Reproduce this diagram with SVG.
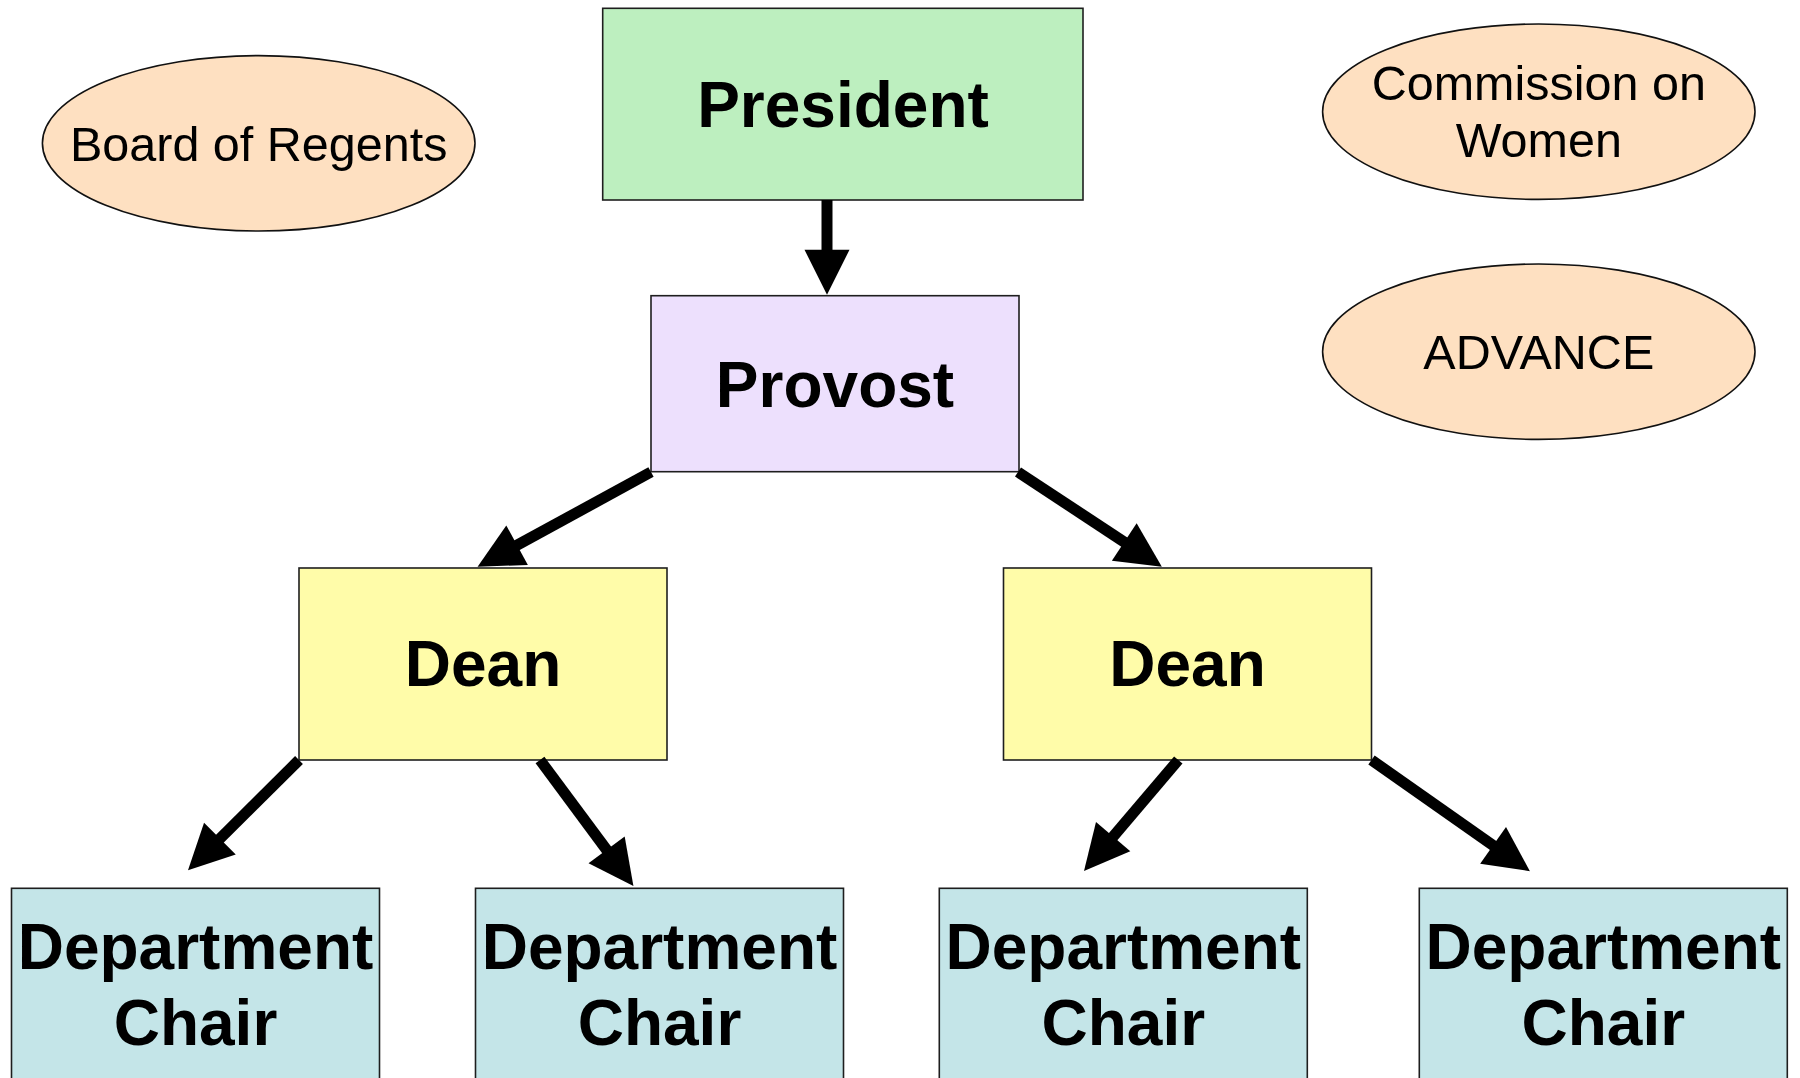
<svg xmlns="http://www.w3.org/2000/svg" width="1800" height="1078" viewBox="0 0 1800 1078">
<style>
.box{stroke:#1e1e1e;stroke-width:1.6}
.ell{fill:#fee0c1;stroke:#111;stroke-width:1.6}
.bt{font-family:"Liberation Sans",Arial,sans-serif;font-weight:bold;font-size:64px;fill:#000;text-anchor:middle}
.et{font-family:"Liberation Sans",Arial,sans-serif;font-size:48.5px;fill:#000;text-anchor:middle}
.con{stroke:#000;stroke-width:11;fill:none;marker-end:url(#ah)}
</style>
<defs>
<marker id="ah" markerUnits="userSpaceOnUse" markerWidth="45" markerHeight="45" viewBox="0 0 45 45" refX="1" refY="22.5" orient="auto" overflow="visible">
<path d="M0,0 L45,22.5 L0,45 z" fill="#000"/>
</marker>
</defs>
<rect width="1800" height="1078" fill="#fff"/>
<g id="board-of-regents">
<ellipse class="ell" cx="258.7" cy="143.3" rx="216.3" ry="87.7"/>
<text class="et" x="258.7" y="160.5">Board of Regents</text>
</g>
<g id="commission-on-women">
<ellipse class="ell" cx="1538.8" cy="111.7" rx="216.2" ry="87.7"/>
<text class="et" x="1538.8" y="99.5">Commission on</text>
<text class="et" x="1538.8" y="157">Women</text>
</g>
<g id="advance">
<ellipse class="ell" cx="1538.8" cy="351.7" rx="216.2" ry="87.7"/>
<text class="et" x="1538.8" y="368.5">ADVANCE</text>
</g>
<g id="president">
<rect class="box" x="602.7" y="8.3" width="480.3" height="191.7" fill="#bdefbf"/>
<text class="bt" x="843" y="126.5">President</text>
</g>
<g id="provost">
<rect class="box" x="651" y="295.7" width="368" height="176" fill="#ede0fd"/>
<text class="bt" x="835" y="407">Provost</text>
</g>
<g id="dean-left">
<rect class="box" x="299" y="568" width="368" height="192" fill="#fffca9"/>
<text class="bt" x="483" y="686">Dean</text>
</g>
<g id="dean-right">
<rect class="box" x="1003.5" y="568" width="368" height="192" fill="#fffca9"/>
<text class="bt" x="1187.5" y="686">Dean</text>
</g>
<g id="chair-1">
<rect class="box" x="11.5" y="888.3" width="368" height="210" fill="#c4e5e8"/>
<text class="bt" x="195.5" y="968.5">Department</text>
<text class="bt" x="195.5" y="1044.5">Chair</text>
</g>
<g id="chair-2">
<rect class="box" x="475.5" y="888.3" width="368" height="210" fill="#c4e5e8"/>
<text class="bt" x="659.5" y="968.5">Department</text>
<text class="bt" x="659.5" y="1044.5">Chair</text>
</g>
<g id="chair-3">
<rect class="box" x="939.3" y="888.3" width="368" height="210" fill="#c4e5e8"/>
<text class="bt" x="1123.3" y="968.5">Department</text>
<text class="bt" x="1123.3" y="1044.5">Chair</text>
</g>
<g id="chair-4">
<rect class="box" x="1419.3" y="888.3" width="368" height="210" fill="#c4e5e8"/>
<text class="bt" x="1603.3" y="968.5">Department</text>
<text class="bt" x="1603.3" y="1044.5">Chair</text>
</g>
<g id="connectors">
<path class="con" d="M827,200 L827,250.7"/>
<path class="con" d="M651,472 L516.2,545.7"/>
<path class="con" d="M1018,472 L1125.1,542.6"/>
<path class="con" d="M299,760 L219.2,839.3"/>
<path class="con" d="M540,760 L607.2,850.6"/>
<path class="con" d="M1178.3,760 L1112.5,837.4"/>
<path class="con" d="M1371.5,760 L1493.9,845.9"/>
</g>
</svg>
